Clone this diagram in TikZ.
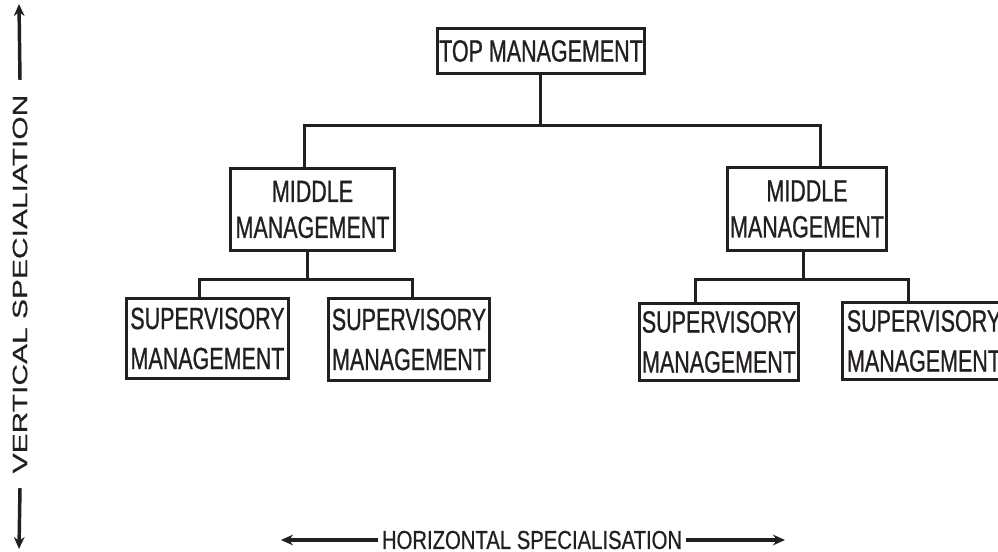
\documentclass[tikz,border=0pt]{standalone}
\usepackage{fontspec}
\usepackage{tikz}
\usetikzlibrary{arrows.meta, calc}
\newfontfamily\orgfont[FakeStretch=0.7, FakeBold=0.8]{Liberation Sans}
\newfontfamily\axisfont[FakeStretch=0.78, FakeBold=0.6]{Liberation Sans}
\newfontfamily\vaxisfont[FakeStretch=1.45, FakeBold=0.6]{Liberation Sans}
\definecolor{orgink}{HTML}{231F20}

\begin{document}
\begin{tikzpicture}[x=0.75pt, y=-0.75pt,
    box/.style={draw=orgink, line width=2.25pt, text=orgink, align=center, inner sep=1pt,
      font=\orgfont\fontsize{23}{27}\selectfont},
    supbox/.style={box, font=\orgfont\fontsize{23}{30}\selectfont},
    link/.style={draw=orgink, line width=2.25pt},
    axisarrow/.style={draw=orgink, line width=2.6pt, -{Stealth[length=9pt, width=8pt]}}]
  \useasboundingbox (0,0) rectangle (998,552);
  % boxes
  \node[box, minimum width=155pt, minimum height=34pt] (top) at (541,51) {TOP MANAGEMENT};
  \node[box, minimum width=123pt, minimum height=61.5pt] (mid1) at (312.5,209.5) {MIDDLE\\MANAGEMENT};
  \node[box, minimum width=119pt, minimum height=62pt] (mid2) at (807,209) {MIDDLE\\MANAGEMENT};
  \node[supbox, minimum width=121.5pt, minimum height=60pt] (sup1) at (207.5,338.5) {SUPERVISORY\\MANAGEMENT};
  \node[supbox, minimum width=121pt, minimum height=61.5pt] (sup2) at (409,339.5) {SUPERVISORY\\MANAGEMENT};
  \node[supbox, minimum width=119pt, minimum height=58pt] (sup3) at (719,342) {SUPERVISORY\\MANAGEMENT};
  \node[supbox, minimum width=123pt, minimum height=58pt] (sup4) at (924,341) {SUPERVISORY\\MANAGEMENT};
  % junctions
  \coordinate (bus) at (540,126);
  \coordinate (b1) at (304,126);
  \coordinate (b2) at (820,126);
  \coordinate (s1) at (307,279);
  \coordinate (c1) at (199,279);
  \coordinate (c2) at (412,279);
  \coordinate (s2) at (803,279);
  \coordinate (c3) at (695,279);
  \coordinate (c4) at (908,279);
  % connectors
  \draw[link] (top.south -| bus) -- (bus);
  \draw[link] (mid1.north -| b1) |- (bus) -| (mid2.north -| b2);
  \draw[link] (mid1.south -| s1) -- (s1);
  \draw[link] (sup1.north -| c1) |- (s1) -| (sup2.north -| c2);
  \draw[link] (mid2.south -| s2) -- (s2);
  \draw[link] (sup3.north -| c3) |- (s2) -| (sup4.north -| c4);
  % axes
  \node[font=\vaxisfont\fontsize{15.5}{16}\selectfont, text=orgink, rotate=90, inner xsep=11pt] (vlab) at (20,284) {VERTICAL SPECIALIATION};
  \coordinate (vtop) at (19,4);
  \coordinate (vbot) at (19,549);
  \draw[axisarrow] (vlab.east) -- (vtop);
  \draw[axisarrow] (vlab.west) -- (vbot);
  \node[font=\axisfont\fontsize{19.5}{20}\selectfont, text=orgink, inner xsep=3pt, inner ysep=1pt] (hlab) at (532,540) {HORIZONTAL SPECIALISATION};
  \coordinate (hleft) at (281,540);
  \coordinate (hright) at (785,540);
  \draw[axisarrow] (hlab.west) -- (hleft);
  \draw[axisarrow] (hlab.east) -- (hright);
\end{tikzpicture}
\end{document}
